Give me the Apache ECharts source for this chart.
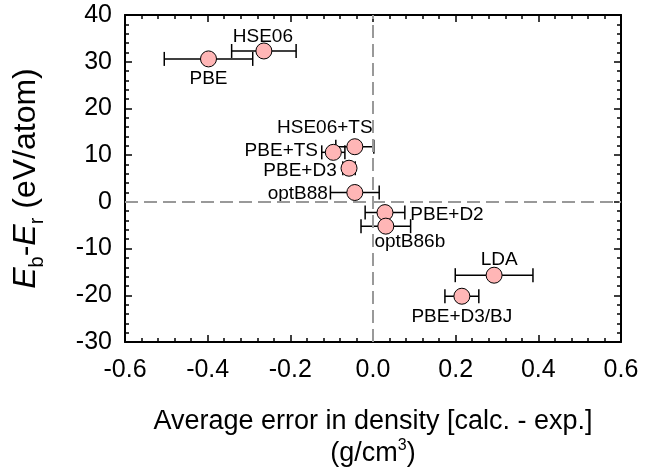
<!DOCTYPE html>
<html>
<head>
<meta charset="utf-8">
<script src="https://cdn.jsdelivr.net/npm/echarts@6/dist/echarts.min.js"></script>
<style>
html,body{margin:0;padding:0;background:#fff;}
#tu_1{width:652px;height:467px;}
</style>
</head>
<body>
<div id="tu_1"></div>
<script>
// data
var names = ['PBE','HSE06','HSE06+TS','PBE+TS','PBE+D3','optB88','PBE+D2','optB86b','LDA','PBE+D3/BJ'];
var densErr = [-0.398,-0.264,-0.044,-0.096,-0.058,-0.044,0.029,0.031,0.293,0.215];//x
var energy = [30.6,32.3,11.8,10.6,7.2,2.0,-2.3,-5.2,-15.7,-20.2];//y
var densSd = [0.107,0.078,0.046,0.028,0.015,0.059,0.048,0.060,0.094,0.041];//误差棒半宽
var xTicks = [-0.6,-0.4,-0.2,0.0,0.2,0.4,0.6];
var yTicks = [-30,-20,-10,0,10,20,30,40];

// label placement (pixels from point centre)
var labelOff = [[0,20],[-1,-14],[-30,-19],[-52,-2],[-49,3],[-57,1],[62,2],[24,16],[5,-15],[0,21]];

var font = '"Liberation Sans", Arial, sans-serif';
var myChart_1;
window.onresize=function () {
	if(myChart_1){ myChart_1.resize(); }
};
a1();

function a1(){
	myChart_1 = echarts.init(document.getElementById('tu_1'));
	var pts=[],bars=[];
	for(var i=0;i<names.length;i++){
		pts.push({
			name:names[i],
			value:[densErr[i],energy[i]],
			label:{offset:labelOff[i]}
		});
		bars.push([densErr[i],energy[i],densSd[i]]);
	}
	var tickStyle = {show:true,inside:true,length:7,lineStyle:{color:'#000',width:1.5}};
	var minorStyle = {show:true,splitNumber:5,length:4,lineStyle:{color:'#000',width:1.5}};
	var lineStyle = {show:true,onZero:false,lineStyle:{color:'#000',width:2}};
	var option = {
		animation:false,
		grid:{left:125,top:15,right:31,bottom:125,outerBoundsMode:'none',containLabel:false},
		xAxis:[{
			type:'value',
			min:xTicks[0],max:xTicks[xTicks.length-1],interval:0.2,
			axisLine:lineStyle,axisTick:tickStyle,minorTick:minorStyle,
			splitLine:{show:false},
			axisLabel:{
				margin:16,color:'#000',fontSize:25,fontFamily:font,
				formatter:function(v){return v.toFixed(1);}
			},
			name:'{a|Average error in density [calc. - exp.]}\n{a|(g/cm}{s|3}{a|)}',
			nameLocation:'middle',
			nameGap:64,
			nameTextStyle:{
				color:'#000',fontFamily:font,
				rich:{
					a:{fontSize:27,color:'#000',fontFamily:font,lineHeight:32},
					s:{fontSize:16,color:'#000',fontFamily:font,lineHeight:32,verticalAlign:'top',padding:[0,0,8,0]}
				}
			}
		},{
			type:'value',position:'top',
			min:xTicks[0],max:xTicks[xTicks.length-1],interval:0.2,
			axisLine:lineStyle,axisTick:tickStyle,minorTick:minorStyle,
			splitLine:{show:false},axisLabel:{show:false}
		}],
		yAxis:[{
			type:'value',
			min:yTicks[0],max:yTicks[yTicks.length-1],interval:10,
			axisLine:lineStyle,axisTick:tickStyle,minorTick:minorStyle,
			splitLine:{show:false},
			axisLabel:{margin:13,color:'#000',fontSize:25,fontFamily:font},
			name:'{i|E}{b|b}{n|-}{i|E}{b|r}{n| (eV/atom)}',
			nameLocation:'middle',
			nameGap:78,
			nameRotate:90,
			nameTextStyle:{
				color:'#000',fontFamily:font,
				rich:{
					i:{fontSize:32,fontStyle:'italic',color:'#000',fontFamily:font,lineHeight:42,verticalAlign:'middle'},
					n:{fontSize:32,color:'#000',fontFamily:font,lineHeight:42,verticalAlign:'middle'},
					b:{fontSize:20,color:'#000',fontFamily:font,lineHeight:42,verticalAlign:'bottom'}
				}
			}
		},{
			type:'value',position:'right',
			min:yTicks[0],max:yTicks[yTicks.length-1],interval:10,
			axisLine:lineStyle,axisTick:tickStyle,minorTick:minorStyle,
			splitLine:{show:false},axisLabel:{show:false}
		}],
		series:[{
			type:'line',
			data:[],
			z:1,
			markLine:{
				silent:true,
				symbol:['none','none'],
				label:{show:false},
				lineStyle:{color:'#999',width:2,type:[13,6]},
				data:[{xAxis:0},{yAxis:0}]
			}
		},{
			type:'custom',
			z:2,
			renderItem:function(params,api){
				var y=api.value(1);
				var lo=api.coord([api.value(0)-api.value(2),y]);
				var hi=api.coord([api.value(0)+api.value(2),y]);
				var h=7;
				var st={stroke:'#000',lineWidth:1.5};
				return {type:'group',children:[
					{type:'line',shape:{x1:lo[0],y1:lo[1],x2:hi[0],y2:hi[1]},style:st},
					{type:'line',shape:{x1:lo[0],y1:lo[1]-h,x2:lo[0],y2:lo[1]+h},style:st},
					{type:'line',shape:{x1:hi[0],y1:hi[1]-h,x2:hi[0],y2:hi[1]+h},style:st}
				]};
			},
			data:bars
		},{
			type:'scatter',
			z:3,
			symbol:'circle',
			symbolSize:16,
			itemStyle:{color:'#ffb6b6',borderColor:'#000',borderWidth:1,opacity:1},
			label:{
				show:true,
				position:'inside',
				formatter:'{b}',
				color:'#000',
				fontSize:19,
				fontFamily:font,
				align:'center',
				verticalAlign:'middle'
			},
			data:pts
		}]
	};
	myChart_1.setOption(option);
}
</script>
</body>
</html>
